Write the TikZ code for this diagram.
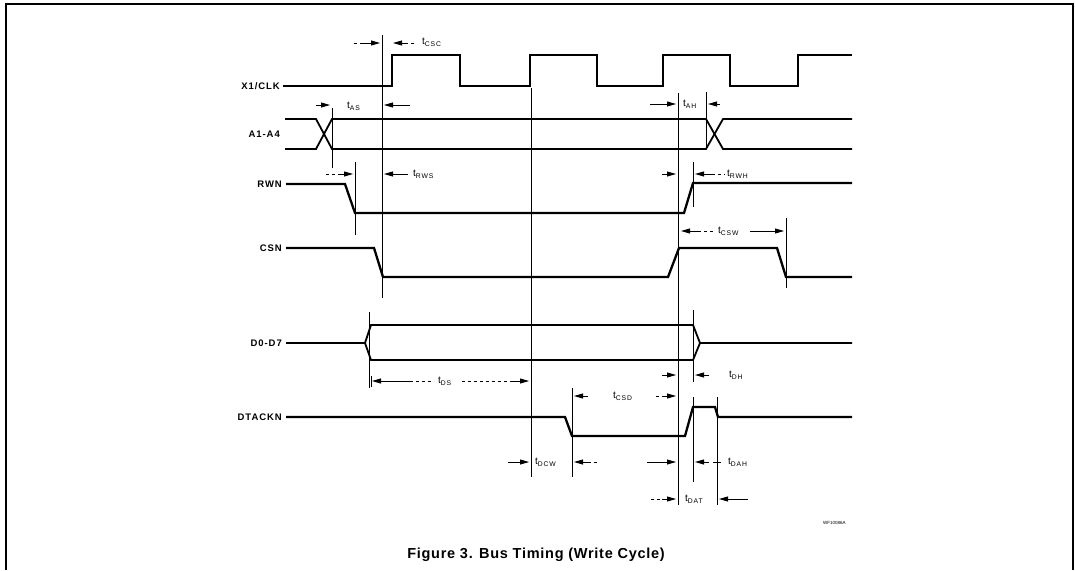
\documentclass[tikz,border=0pt]{standalone}
\usepackage{fontspec}
\setmainfont{Liberation Sans}
\newfontfamily\labfont[LetterSpace=10]{Liberation Sans}
\newfontfamily\subfont[LetterSpace=12]{Liberation Sans}
\newfontfamily\capfont[LetterSpace=5]{Liberation Sans}
\usetikzlibrary{arrows.meta}
\newcommand{\tlab}[1]{{\fontsize{10}{10}\selectfont t}\raisebox{-2pt}{\subfont\fontsize{6.8}{6.8}\selectfont #1}}
\begin{document}
\begin{tikzpicture}[x=1pt,y=-1pt,
  sig/.style={line width=2.3pt, line join=miter, line cap=butt},
  bus/.style={line width=1.8pt, line join=miter},
  mk/.style={line width=0.8pt},
  dim/.style={line width=0.8pt, -{Triangle[length=9pt,width=5pt]}},
  dimd/.style={line width=0.7pt, dash pattern=on 3pt off 3pt},
  siglab/.style={anchor=east, inner sep=0pt, font=\labfont\bfseries\fontsize{9.5}{10}\selectfont},
  tl/.style={anchor=west, inner sep=0pt}]
\useasboundingbox (0,0) rectangle (1075,570);
% frame
\draw[line width=1.8pt] (6,570) -- (6,4) -- (1073,4) -- (1073,570);

% signal labels
\node[siglab] (lclk) at (280,86) {X1/CLK};
\node[siglab] (la) at (280,134) {A1-A4};
\node[siglab] (lrwn) at (282,184) {RWN};
\node[siglab] (lcsn) at (282,248) {CSN};
\node[siglab] (ld) at (282,343) {D0-D7};
\node[siglab] (ldt) at (282,417) {DTACKN};

% clock
\draw[sig] (lclk.east) ++(3,0) -- (392,86) -- (392,55) -- (460,55) -- (460,86) -- (530,86) -- (530,55) -- (597,55) -- (597,86) -- (663,86) -- (663,55) -- (730,55) -- (730,86) -- (798,86) -- (798,55) -- (852,55);
% address bus
\draw[bus] (285,119) -- (316,119) -- (332,149) -- (706,149) -- (723,119) -- (852,119);
\draw[bus] (285,149) -- (316,149) -- (332,119) -- (706,119) -- (723,149) -- (852,149);
% RWN
\draw[sig] (lrwn.east) ++(4,0) -- (345,184) -- (355,213) -- (684,213) -- (693,183) -- (852,183);
% CSN
\draw[sig] (lcsn.east) ++(4,0) -- (374,248) -- (383,277) -- (668,277) -- (679,248) -- (777,248) -- (786,277) -- (852,277);
% D0-D7
\draw[bus] (ld.east) ++(4,0) -- (365,343) -- (371,325) -- (693,325) -- (700,343) -- (852,343);
\draw[bus] (365,343) -- (371,360) -- (693,360) -- (700,343);
% DTACKN
\draw[sig] (ldt.east) ++(4,0) -- (565,417) -- (572,436) -- (685,436) -- (693,407) -- (715,407) -- (718,417) -- (852,417);

% timing reference lines
\draw[mk] (382,35) -- (382,298);
\draw[mk] (332,108) -- (332,168);
\draw[mk] (355,162) -- (355,235);
\draw[mk] (531,88) -- (531,477);
\draw[mk] (678,93) -- (678,505);
\draw[mk] (706,92) -- (706,149);
\draw[mk] (693,162) -- (693,207);
\draw[mk] (693,310) -- (693,382);
\draw[mk] (693,397) -- (693,482);
\draw[mk] (786,218) -- (786,288);
\draw[mk] (369,312) -- (369,388);
\draw[mk] (572,388) -- (572,477);
\draw[mk] (717,397) -- (717,505);

% tCSC
\draw[dim] (362,43) -- (380,43);
\draw[dimd] (354,43) -- (362,43);
\draw[dim] (405,43) -- (393,43);
\draw[dimd] (405,43) -- (416,43);
\node[tl] (tcsc) at (422,42) {\tlab{CSC}};
% tAS
\draw[dim] (316,105) -- (330,105);
\node[tl] (tas) at (347,106) {\tlab{AS}};
\draw[dim] (410,105) -- (384,105);
% tAH
\draw[dim] (650,104) -- (676,104);
\node[tl] (tah) at (683,104) {\tlab{AH}};
\draw[dim] (720,104) -- (708,104);
% tRWS
\draw[dim] (340,174) -- (353,174);
\draw[dimd] (326,174) -- (340,174);
\draw[dim] (408,174) -- (384,174);
\node[tl] (trws) at (413,174) {\tlab{RWS}};
% tRWH
\draw[dim] (662,174) -- (676,174);
\draw[dim] (712,174) -- (695,174);
\draw[dimd] (712,174) -- (725,174);
\node[tl] (trwh) at (727,174) {\tlab{RWH}};
% tCSW
\draw[dim] (698,231) -- (681,231);
\draw[dimd] (698,231) -- (714,231);
\node[tl] (tcsw) at (718,231) {\tlab{CSW}};
\draw[dim] (750,231) -- (784,231);
% tDS
\draw[mk] (371,376) -- (371,387);
\draw[dim] (410,381) -- (372,381);
\draw[dimd] (410,381) -- (434,381);
\node[tl] (tds) at (438,381) {\tlab{DS}};
\draw[dimd] (462,381) -- (512,381);
\draw[dim] (512,381) -- (529,381);
% tDH
\draw[dim] (662,375) -- (676,375);
\draw[dim] (709,375) -- (695,375);
\node[tl] (tdh) at (729,375) {\tlab{DH}};
% tCSD
\draw[dim] (588,396) -- (574,396);
\node[tl] (tcsd) at (613,396) {\tlab{CSD}};
\draw[dimd] (656,396) -- (664,396);
\draw[dim] (664,396) -- (676,396);
% tDCW
\draw[dim] (508,462) -- (529,462);
\node[tl] (tdcw) at (535,462) {\tlab{DCW}};
\draw[dim] (588,462) -- (574,462);
\draw[dimd] (588,462) -- (598,462);
% tDAH
\draw[dim] (647,462) -- (676,462);
\draw[dim] (709,462) -- (695,462);
\draw[mk] (713,462) -- (721,462);
\node[tl] (tdah) at (728,462) {\tlab{DAH}};
% tDAT
\draw[dimd] (651,499) -- (662,499);
\draw[dim] (662,499) -- (676,499);
\node[tl] (tdat) at (685,499) {\tlab{DAT}};
\draw[dim] (748,499) -- (719,499);

% code
\node[anchor=west, inner sep=0pt, font=\fontsize{4.5}{5}\selectfont] (code) at (823,523) {WF10086A};
% caption
\node[inner sep=0pt, font=\capfont\bfseries\fontsize{14.5}{16}\selectfont] (cap) at (536,555) {Figure 3. Bus Timing (Write Cycle)};
\end{tikzpicture}
\end{document}
